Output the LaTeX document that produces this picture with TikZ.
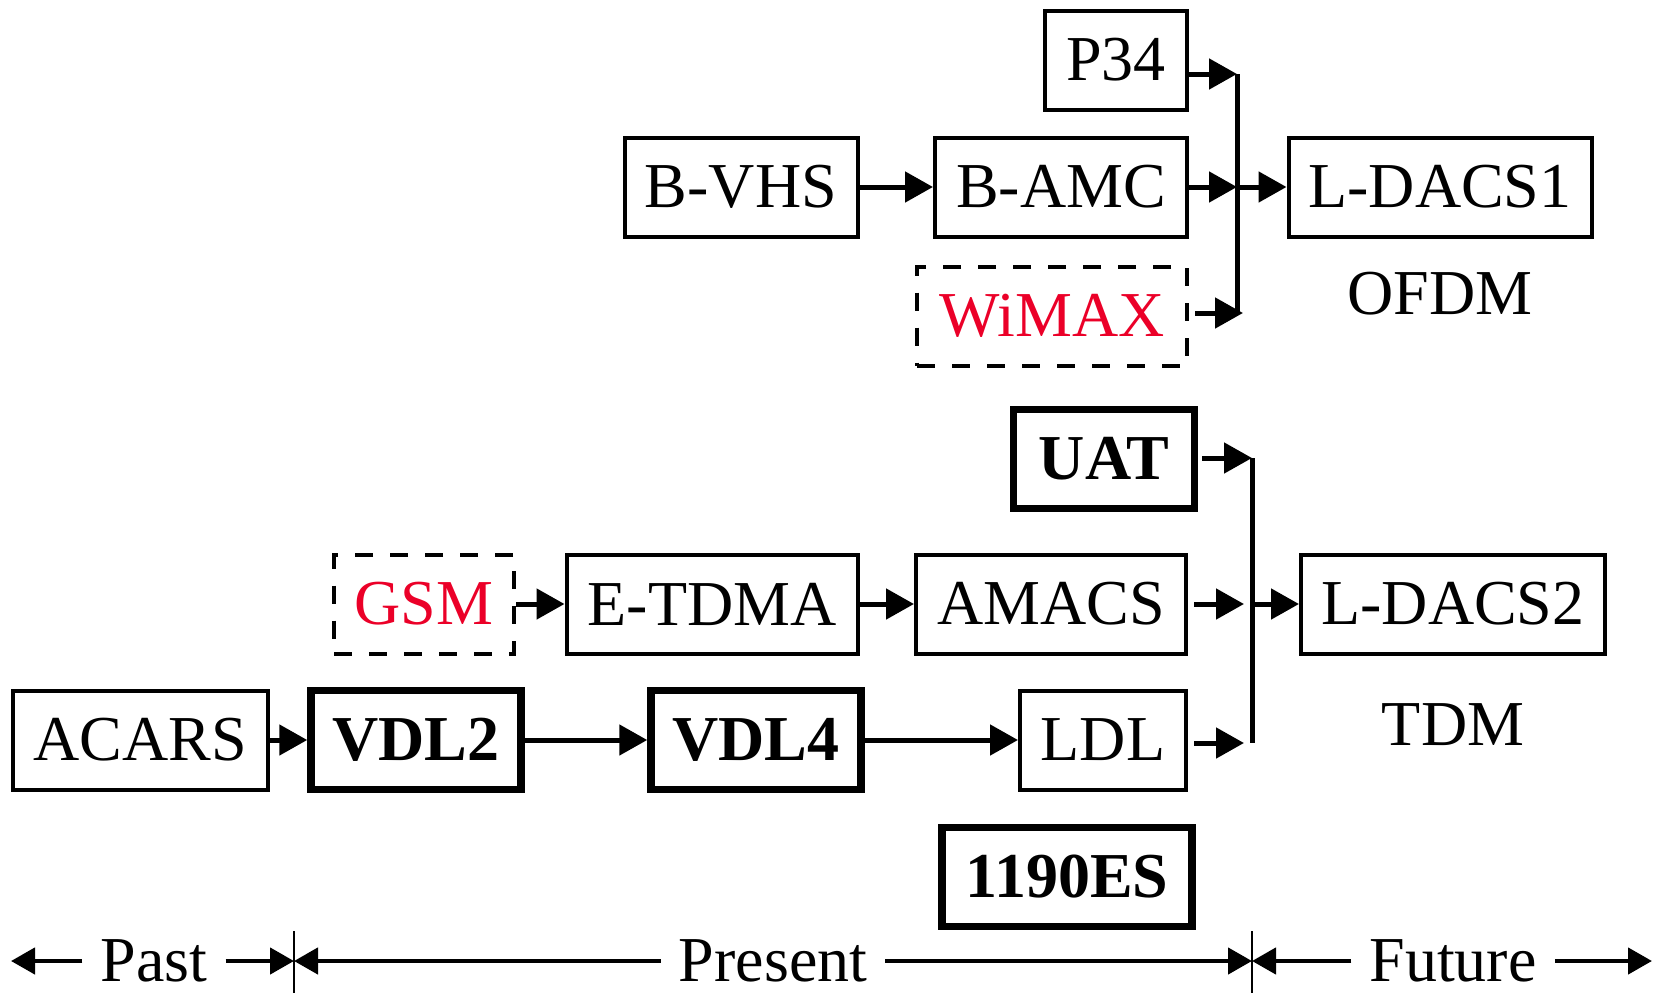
\documentclass[tikz,border=0pt]{standalone}
\usepackage{fontspec}
\setmainfont{Liberation Serif}
\usetikzlibrary{arrows.meta}
\definecolor{techred}{RGB}{235,0,40}
\tikzset{
    box/.style={draw, line width=4pt, minimum height=99pt, inner sep=0pt,
        font=\fontsize{64}{70}\selectfont},
    boldbox/.style={box, line width=7.5pt, font=\fontsize{64}{70}\selectfont\bfseries},
    dashbox/.style={box, dash pattern=on 18pt off 17pt, text=techred},
    arr/.style={line width=5pt, -{Triangle[length=28pt,width=30pt]}},
    bus/.style={line width=5pt},
    era/.style={font=\fontsize{64}{70}\selectfont, inner xsep=18pt, inner ysep=0pt},
    tl/.style={line width=4.5pt, -{Triangle[length=24pt,width=26pt]}},
}
\begin{document}
\begin{tikzpicture}[x=1pt,y=-1pt]
    \useasboundingbox (0,0) rectangle (1663,993);

    % OFDM branch
    \node[box, minimum width=142pt] (p34) at (1116,60) {P34};
    \node[box, minimum width=233pt] (bvhs) at (741,187) {B-VHS};
    \node[box, minimum width=252pt] (bamc) at (1061,187) {B-AMC};
    \node[dashbox, minimum width=270pt] (wimax) at (1052,316) {WiMAX};
    \node[box, minimum width=303pt] (ldacs1) at (1440,187) {L-DACS1};
    \node[era] (ofdm) at (1440,294) {OFDM};
    \coordinate (j1) at (1237,74);
    \coordinate (j2) at (1237,187);
    \coordinate (j3) at (1237,313);
    \draw[arr] ([yshift=-14pt]p34.east) -- (j1);
    \draw[arr] (bvhs) -- (bamc);
    \draw[arr] (bamc) -- (j2);
    \draw[arr] ([xshift=6pt]wimax.east |- j3) -- ([xshift=6pt]j3);
    \draw[bus] (j1) -- (j3);
    \draw[arr] (j2) -- (ldacs1);

    % TDM branch
    \node[boldbox, minimum width=181pt] (uat) at (1104,459) {UAT};
    \node[dashbox, minimum width=180pt] (gsm) at (424,604) {GSM};
    \node[box, minimum width=291pt] (etdma) at (712,604) {E-TDMA};
    \node[box, minimum width=270pt] (amacs) at (1051,604) {AMACS};
    \node[box, minimum width=255pt] (acars) at (140,740) {ACARS};
    \node[boldbox, minimum width=210pt] (vdl2) at (416,740) {VDL2};
    \node[boldbox, minimum width=210pt] (vdl4) at (756,740) {VDL4};
    \node[box, minimum width=166pt] (ldl) at (1103,740) {LDL};
    \node[box, minimum width=304pt] (ldacs2) at (1453,604) {L-DACS2};
    \node[era] (tdm) at (1453,725) {TDM};
    \node[boldbox, minimum width=250pt] (es1190) at (1067,877) {1190ES};
    \coordinate (k1) at (1252,458);
    \coordinate (k2) at (1252,604);
    \coordinate (k3) at (1252,743);
    \draw[arr] (gsm) -- (etdma);
    \draw[arr] (etdma) -- (amacs);
    \draw[arr] (acars) -- (vdl2);
    \draw[arr] (vdl2) -- (vdl4);
    \draw[arr] (vdl4) -- (ldl);
    \draw[arr] ([xshift=4pt]uat.east |- k1) -- (k1);
    \draw[arr] ([xshift=6pt]amacs.east) -- ([xshift=-8pt]k2);
    \draw[arr] ([xshift=6pt]ldl.east |- k3) -- ([xshift=-8pt]k3);
    \draw[bus] (k1) -- (k3);
    \draw[arr] (k2) -- (ldacs2);

    % Time line
    \node[era] (past) at (154,961) {Past};
    \node[era] (present) at (773,961) {Present};
    \node[era] (future) at (1453,961) {Future};
    \coordinate (t0) at (11,961);
    \coordinate (t1) at (294,961);
    \coordinate (t2) at (1252,961);
    \coordinate (t3) at (1652,961);
    \draw[tl] (past.west) -- (t0);
    \draw[tl] (past.east) -- (t1);
    \draw[tl] (present.west) -- (t1);
    \draw[tl] (present.east) -- (t2);
    \draw[tl] (future.west) -- (t2);
    \draw[tl] (future.east) -- (t3);
    \draw[line width=2pt] ([yshift=30pt]t1) -- ([yshift=-32pt]t1);
    \draw[line width=2pt] ([yshift=30pt]t2) -- ([yshift=-32pt]t2);
\end{tikzpicture}
\end{document}
